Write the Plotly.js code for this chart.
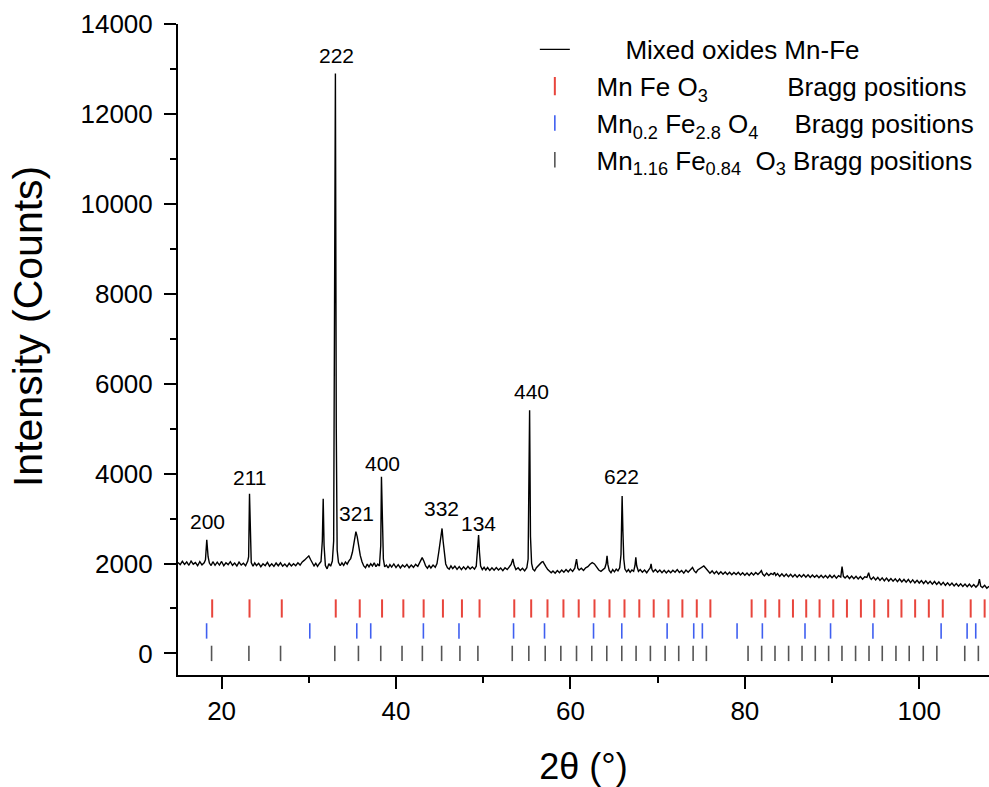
<!DOCTYPE html>
<html>
<head>
<meta charset="utf-8">
<script src="https://cdn.plot.ly/plotly-3.0.1.min.js"></script>
<style>html,body{margin:0;padding:0;background:#fff;}#chart{width:989px;height:787px;}</style>
</head>
<body>
<div id="chart"></div>
<script>
// ---- Diffraction pattern (2theta in degrees, intensity in counts) ----
var twoTheta = [
15.0,15.25,15.5,15.75,16.0,16.25,16.5,16.75,17.0,17.25,17.5,17.75,18.0,18.15,18.3,18.45,18.6,18.8,19.0,19.25,19.5,19.75,
20.0,20.25,20.5,20.75,21.0,21.25,21.5,21.75,22.0,22.25,22.5,22.75,23.0,23.1,23.2,23.3,23.4,23.6,23.8,24.0,24.25,24.5,24.75,
25.0,25.25,25.5,25.75,26.0,26.25,26.5,26.75,27.0,27.25,27.5,27.75,28.0,28.25,28.5,28.75,29.0,29.25,29.5,29.75,30.0,30.2,30.4,30.6,30.8,
31.0,31.2,31.4,31.55,31.65,31.75,31.9,32.1,32.3,32.5,32.7,32.85,32.95,33.05,33.15,33.25,33.4,33.6,33.8,34.0,34.2,34.4,34.6,34.8,
35.0,35.2,35.4,35.55,35.7,35.9,36.1,36.3,36.5,36.7,36.9,37.1,37.3,37.5,37.7,37.9,38.1,38.25,38.33,38.43,38.55,38.7,38.9,39.1,39.3,39.5,39.75,
40.0,40.25,40.5,40.75,41.0,41.25,41.5,41.75,42.0,42.25,42.5,42.75,43.0,43.2,43.4,43.6,43.8,44.0,44.25,44.5,44.7,44.9,
45.1,45.28,45.4,45.55,45.7,45.9,46.1,46.3,46.5,46.75,47.0,47.25,47.5,47.75,48.0,48.25,48.5,48.75,49.0,49.2,49.35,49.47,49.57,49.7,49.9,
50.1,50.3,50.5,50.75,51.0,51.25,51.5,51.75,52.0,52.25,52.5,52.75,53.0,53.2,53.4,53.55,53.75,54.0,54.25,54.5,54.75,55.0,55.15,55.25,55.32,55.42,55.55,55.7,55.9,
56.1,56.3,56.5,56.7,56.85,57.0,57.2,57.4,57.6,57.8,58.0,58.25,58.5,58.75,59.0,59.25,59.5,59.75,
60.0,60.25,60.5,60.7,60.85,61.0,61.25,61.5,61.75,62.0,62.25,62.5,62.75,63.0,63.25,63.5,63.75,63.95,64.1,64.2,64.3,64.45,64.65,64.85,
65.05,65.25,65.45,65.65,65.8,65.93,66.02,66.12,66.25,66.45,66.65,66.85,67.05,67.25,67.4,67.5,67.6,67.8,68.0,68.25,68.5,68.75,69.0,69.15,69.25,69.35,69.5,69.75,
70.0,70.25,70.5,70.75,71.0,71.25,71.5,71.75,72.0,72.25,72.5,72.75,73.0,73.25,73.5,73.75,74.0,74.2,74.4,74.6,74.8,
75.0,75.3,75.5,75.75,76.0,76.25,76.5,76.75,77.0,77.25,77.5,77.75,78.0,78.25,78.5,78.75,79.0,79.25,79.5,79.75,
80.0,80.25,80.5,80.75,81.0,81.25,81.5,81.75,81.9,82.05,82.25,82.5,82.75,83.0,83.25,83.4,83.55,83.75,84.0,84.25,84.5,84.75,
85.0,85.25,85.5,85.75,86.0,86.25,86.5,86.75,87.0,87.25,87.5,87.75,88.0,88.25,88.5,88.75,89.0,89.25,89.5,89.75,
90.0,90.25,90.5,90.75,91.0,91.15,91.3,91.5,91.75,92.0,92.25,92.5,92.75,93.0,93.25,93.5,93.75,94.0,94.2,94.35,94.5,94.75,
95.0,95.25,95.5,95.75,96.0,96.25,96.5,96.75,97.0,97.25,97.5,97.75,98.0,98.25,98.5,98.75,99.0,99.25,99.5,99.75,
100.0,100.25,100.5,100.75,101.0,101.25,101.5,101.75,102.0,102.25,102.5,102.75,103.0,103.25,103.5,103.75,104.0,104.25,104.5,104.75,
105.0,105.25,105.5,105.75,106.0,106.25,106.5,106.75,106.9,107.05,107.25,107.5,107.75,108.0
];
var counts = [
2020,1975,2050,1980,2035,1960,2055,1985,2020,1950,2040,1970,2015,2080,2525,2150,2010,1955,2040,1960,2030,1965,
2045,1950,2015,1975,2040,1960,2010,1945,2030,1965,2005,1950,2055,2150,3550,2250,2020,1940,2015,1955,2005,1930,1995,
1950,2025,1940,1995,1935,2010,1950,2015,1940,1990,1930,2005,1945,1995,1950,2015,1965,2035,2075,2120,2170,2090,2010,1945,2005,
1935,1995,2045,2500,3440,2400,1955,1880,1995,1940,2055,2500,8100,12900,5000,2300,2025,1950,2015,1960,2035,1985,2060,2110,
2250,2480,2710,2600,2400,2180,2040,1945,1905,1985,1925,1995,1945,2015,1930,1985,1945,2400,3928,2927,2100,1925,1965,1900,1975,1920,1990,
1910,1975,1900,1965,1920,1980,1905,1965,1915,1980,1935,2045,2130,2050,1945,1895,1955,1900,1965,1915,2000,2250,
2600,2780,2500,2150,1990,1905,1875,1945,1885,1940,1870,1930,1865,1925,1870,1935,1880,1925,1875,1940,2300,2631,2250,1945,1865,
1915,1855,1910,1845,1905,1850,1910,1855,1900,1840,1905,1865,1925,1980,2100,1960,1865,1905,1845,1895,1835,1905,2100,3520,5411,2600,2000,1875,1835,
1905,1950,1995,2030,2040,2000,1925,1865,1835,1795,1835,1785,1845,1795,1855,1805,1865,1815,
1875,1825,1895,2100,1895,1855,1895,1845,1905,1930,1985,2020,1990,1915,1855,1825,1875,1900,2000,2170,1975,1845,1795,1865,
1815,1875,1835,1905,2200,3499,2705,2100,1875,1815,1865,1805,1855,1825,1950,2140,1950,1825,1865,1805,1855,1795,1865,1900,1990,1865,1815,1865,
1805,1855,1795,1850,1790,1845,1795,1850,1805,1865,1800,1845,1785,1855,1805,1865,1910,1835,1795,1855,1880,
1920,1945,1900,1835,1785,1835,1775,1825,1765,1815,1760,1810,1755,1805,1750,1800,1755,1805,1745,1795,
1740,1790,1735,1795,1745,1800,1755,1805,1840,1765,1725,1785,1735,1780,1755,1805,1735,1775,1715,1770,1710,1765,
1705,1760,1700,1755,1695,1750,1700,1755,1695,1750,1690,1745,1695,1740,1685,1740,1685,1735,1680,1740,
1685,1735,1675,1730,1700,1930,1715,1675,1725,1665,1720,1660,1715,1655,1710,1650,1705,1690,1795,1685,1645,1700,
1635,1690,1625,1680,1615,1675,1610,1665,1605,1660,1595,1655,1590,1645,1585,1645,1575,1635,1570,1625,
1565,1620,1555,1615,1550,1605,1540,1600,1535,1590,1525,1580,1515,1570,1510,1565,1500,1555,1495,1550,
1490,1545,1485,1540,1480,1530,1475,1525,1650,1495,1465,1515,1450,1495
];

// ---- Bragg reflection positions (2theta, degrees) ----
var braggMnFeO3 = [18.92,23.2,26.9,33.09,35.84,38.4,40.84,43.17,45.38,47.56,49.58,53.56,55.5,57.37,59.2,60.95,
  62.76,64.48,66.2,67.9,69.55,71.24,72.84,74.49,76.05,80.78,82.35,83.95,85.52,87.04,88.57,90.14,91.71,93.31,94.84,
  96.44,97.96,99.53,101.1,102.7,105.9,107.5];
var braggMn02Fe28O4 = [18.28,30.11,35.5,37.1,43.14,47.22,53.48,57.03,62.65,65.89,71.09,74.14,75.13,79.11,82.01,
  86.9,89.83,94.69,102.51,105.49,106.48];
var braggMn116Fe084O3 = [18.85,23.13,26.76,32.98,35.69,38.25,40.69,43.02,45.23,47.33,49.39,53.33,55.23,57.11,58.9,60.7,
  62.45,64.17,65.89,67.53,69.17,70.86,72.42,74.07,75.59,80.37,81.93,83.46,85.02,86.56,88.08,89.61,91.14,92.7,94.24,
  95.76,97.33,98.85,100.46,102.02,105.22,106.78];
// vertical offsets (counts) of the three tick rows
var braggRowLevel = [1000, 500, 0];

// ---- Peak (hkl) labels ----
var hklLabels = ['200','211','222','321','400','332','134','440','622'];
var hklX = [18.43,23.24,33.2,35.46,38.44,45.2,49.5,55.58,65.82];
var hklY = [2943,3921,13308,3116,4219,3216,2891,5820,3928];

var FONT = '"Liberation Sans", Arial, Helvetica, sans-serif';
var NB = '\u00a0';
function sp(n){ return new Array(n+1).join(NB); }

function rowY(xs, level){ return xs.map(function(){ return level; }); }

var traces = [
  {
    type: 'scatter', mode: 'lines', x: twoTheta, y: counts,
    name: sp(7) + 'Mixed oxides Mn-Fe',
    line: {color: '#000', width: 1.4},
    hoverinfo: 'x+y'
  },
  {
    type: 'scatter', mode: 'markers', x: braggMnFeO3, y: rowY(braggMnFeO3, braggRowLevel[0]),
    name: sp(3) + 'Mn Fe O<sub>3</sub>' + sp(11) + 'Bragg positions',
    marker: {symbol: 'line-ns', size: 13, color: '#e8453c', line: {width: 2, color: '#e8453c'}}
  },
  {
    type: 'scatter', mode: 'markers', x: braggMn02Fe28O4, y: rowY(braggMn02Fe28O4, braggRowLevel[1]),
    name: sp(3) + 'Mn<sub>0.2</sub> Fe<sub>2.8</sub> O<sub>4</sub>' + sp(5) + 'Bragg positions',
    marker: {symbol: 'line-ns', size: 11, color: '#3f5ff0', line: {width: 1.6, color: '#3f5ff0'}}
  },
  {
    type: 'scatter', mode: 'markers', x: braggMn116Fe084O3, y: rowY(braggMn116Fe084O3, braggRowLevel[2]),
    name: sp(3) + 'Mn<sub>1.16</sub> Fe<sub>0.84</sub>' + sp(2) + 'O<sub>3</sub> Bragg positions',
    marker: {symbol: 'line-ns', size: 11, color: '#555', line: {width: 1.6, color: '#555'}}
  }
];

var annotations = hklLabels.map(function(t, i){
  return {x: hklX[i], y: hklY[i], xref: 'x', yref: 'y', text: t, showarrow: false,
          xanchor: 'center', yanchor: 'middle', font: {family: FONT, size: 21, color: '#000'}};
});
// y-axis title (drawn as a rotated annotation so it can sit slightly above the axis centre, as in the original)
annotations.push({
  text: 'Intensity (Counts)', textangle: -90, showarrow: false,
  xref: 'paper', yref: 'paper', x: -0.185, y: 0.536, xanchor: 'center', yanchor: 'middle',
  font: {family: FONT, size: 41, color: '#000'}
});

var layout = {
  width: 989, height: 787,
  margin: {l: 178, r: 0, t: 24, b: 112},
  paper_bgcolor: '#fff', plot_bgcolor: '#fff',
  font: {family: FONT, color: '#000'},
  showlegend: true,
  legend: {
    x: 0.44, xanchor: 'left', y: 0.997, yanchor: 'top',
    bgcolor: 'rgba(0,0,0,0)', borderwidth: 0,
    font: {family: FONT, size: 26, color: '#000'},
    itemclick: false
  },
  xaxis: {
    range: [15, 108], tick0: 0, dtick: 20,
    ticks: 'outside', ticklen: 12, tickwidth: 2, tickcolor: '#000',
    minor: {dtick: 10, ticks: 'outside', ticklen: 6, tickwidth: 2, tickcolor: '#000'},
    showline: true, linewidth: 2, linecolor: '#000',
    showgrid: false, zeroline: false,
    tickfont: {family: FONT, size: 26, color: '#000'},
    title: {text: '2θ (°)', font: {family: FONT, size: 36, color: '#000'}, standoff: 32}
  },
  yaxis: {
    range: [-480, 14000], tick0: 0, dtick: 2000, tickformat: 'd',
    ticks: 'outside', ticklen: 12, tickwidth: 2, tickcolor: '#000',
    ticklabelstandoff: 6,
    minor: {dtick: 1000, ticks: 'outside', ticklen: 6, tickwidth: 2, tickcolor: '#000'},
    showline: true, linewidth: 2, linecolor: '#000',
    showgrid: false, zeroline: false,
    tickfont: {family: FONT, size: 26, color: '#000'},
    title: {text: ''}
  },
  annotations: annotations
};

Plotly.newPlot('chart', traces, layout, {staticPlot: true, displayModeBar: false});
</script>
</body>
</html>
